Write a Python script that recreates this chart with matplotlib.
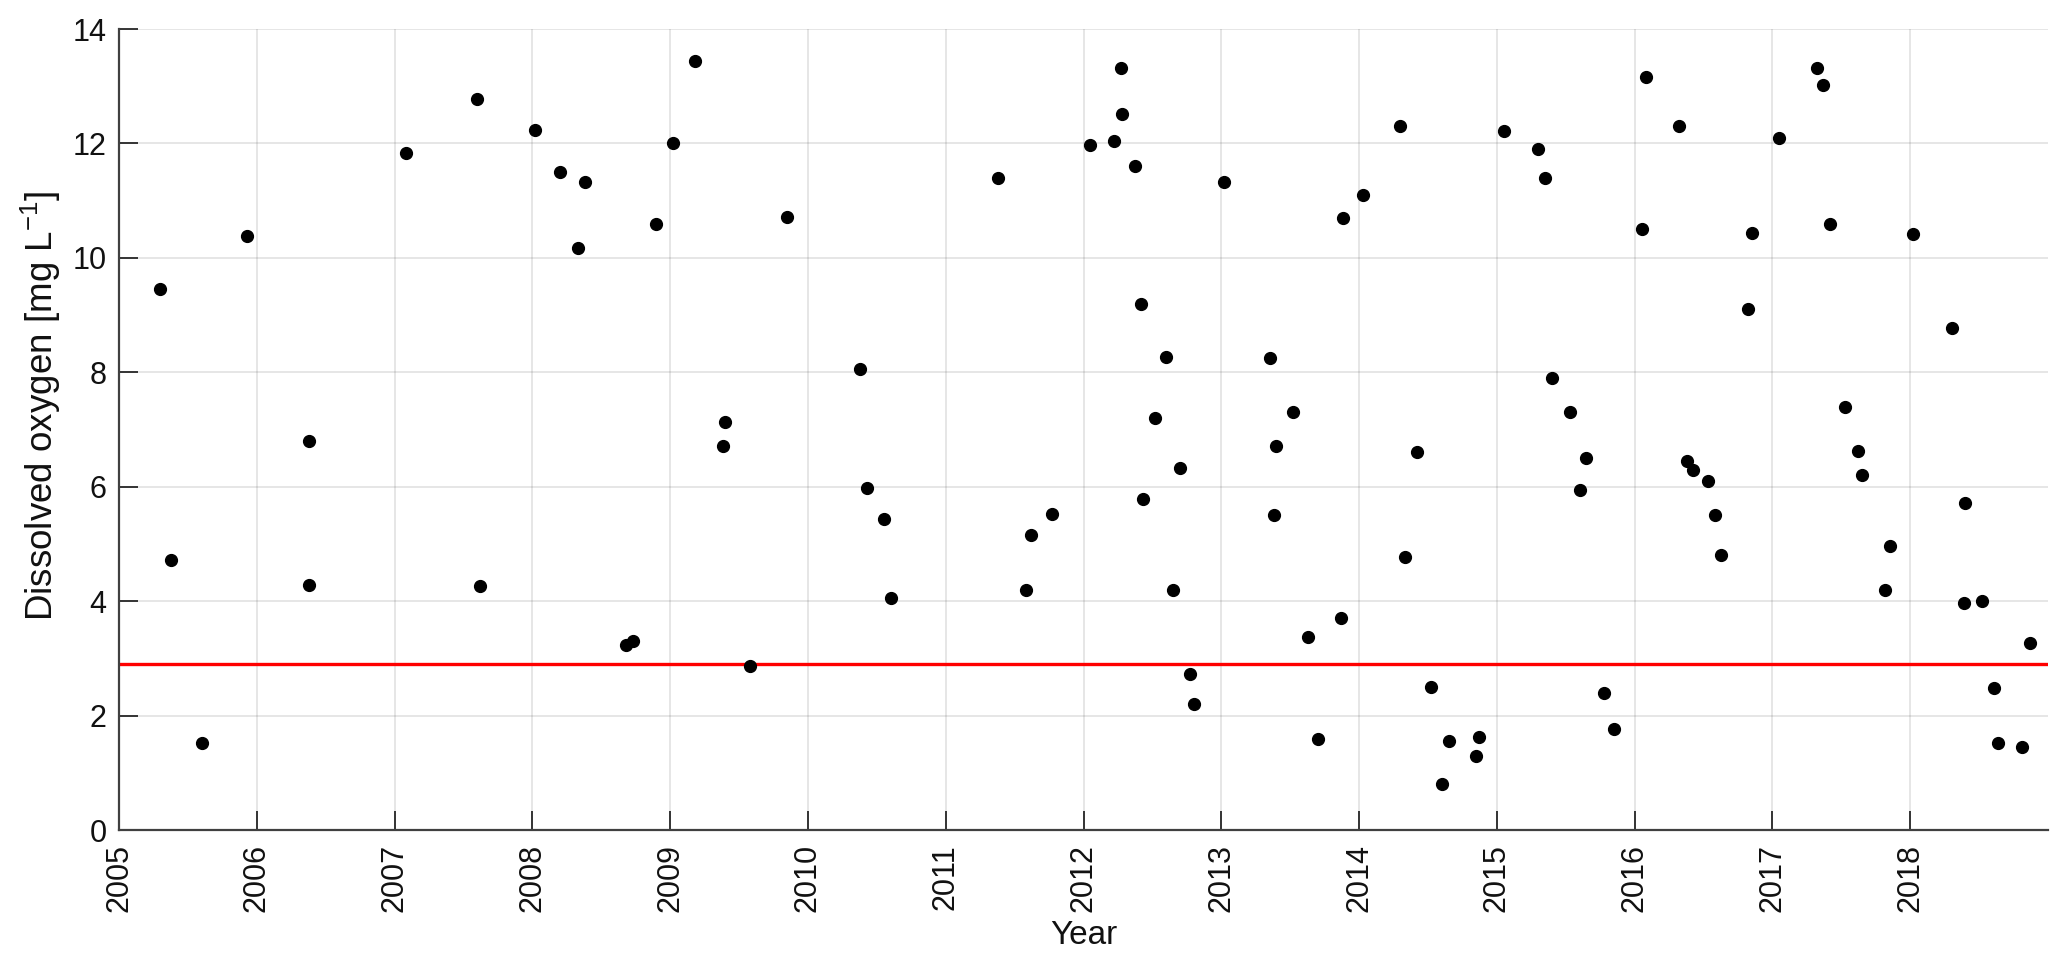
import matplotlib
matplotlib.use('Agg')
import matplotlib.pyplot as plt
import numpy as np

# sampling dates (decimal year) and dissolved oxygen values [mg/L]
year = [2005.30, 2005.38, 2005.60, 2005.93, 2006.38, 2006.38, 2007.08, 2007.60, 2007.62,
        2008.02, 2008.20, 2008.33, 2008.38, 2008.68, 2008.73, 2008.90, 2009.02, 2009.18,
        2009.38, 2009.40, 2009.58, 2009.85, 2010.38, 2010.43, 2010.55, 2010.60, 2011.38,
        2011.58, 2011.62, 2011.77, 2012.05, 2012.22, 2012.27, 2012.28, 2012.37, 2012.42,
        2012.43, 2012.52, 2012.60, 2012.65, 2012.70, 2012.77, 2012.80, 2013.02, 2013.35,
        2013.38, 2013.40, 2013.52, 2013.63, 2013.70, 2013.87, 2013.88, 2014.03, 2014.30,
        2014.33, 2014.42, 2014.52, 2014.60, 2014.65, 2014.85, 2014.87, 2015.05, 2015.30,
        2015.35, 2015.40, 2015.53, 2015.60, 2015.65, 2015.78, 2015.85, 2016.05, 2016.08,
        2016.32, 2016.38, 2016.42, 2016.53, 2016.58, 2016.63, 2016.82, 2016.85, 2017.05,
        2017.32, 2017.37, 2017.42, 2017.53, 2017.62, 2017.65, 2017.82, 2017.85, 2018.02,
        2018.30, 2018.39, 2018.40, 2018.52, 2018.61, 2018.64, 2018.81, 2018.87]
oxygen = [9.45, 4.72, 1.53, 10.38, 6.80, 4.28, 11.83, 12.77, 4.27,
          12.23, 11.50, 10.17, 11.32, 3.24, 3.30, 10.60, 12.00, 13.45,
          6.72, 7.13, 2.87, 10.72, 8.05, 5.98, 5.43, 4.05, 11.40,
          4.20, 5.15, 5.52, 11.97, 12.05, 13.32, 12.52, 11.60, 9.20,
          5.78, 7.20, 8.27, 4.20, 6.32, 2.73, 2.20, 11.32, 8.25,
          5.50, 6.72, 7.30, 3.38, 1.60, 3.70, 10.70, 11.10, 12.30,
          4.77, 6.60, 2.50, 0.80, 1.55, 1.30, 1.62, 12.22, 11.90,
          11.40, 7.90, 7.30, 5.95, 6.50, 2.40, 1.77, 10.50, 13.17,
          12.30, 6.45, 6.30, 6.10, 5.50, 4.80, 9.10, 10.43, 12.10,
          13.32, 13.02, 10.60, 7.40, 6.62, 6.20, 4.20, 4.97, 10.42,
          8.78, 3.97, 5.72, 4.00, 2.49, 1.53, 1.46, 3.27]
threshold = 2.9
year_ticks = list(range(2005, 2019))

plt.rcParams['font.family'] = ['Liberation Sans', 'DejaVu Sans']
plt.rcParams['mathtext.default'] = 'regular'

fig = plt.figure(figsize=(20.67, 9.69), dpi=100)
ax = fig.add_axes([0.0576, 0.1434, 0.9332, 0.8266])

ax.plot(year, oxygen, 'o', color='k', markersize=8.5, zorder=3)
ax.axhline(threshold, color='#ff0000', linewidth=2.4, zorder=2)

ax.set_xlim(2005, 2019)
ax.set_ylim(0, 14)
ax.set_xticks(year_ticks)
ax.set_xticklabels([str(y) for y in year_ticks], rotation=90)
ax.set_yticks(np.arange(0, 15, 2))

ax.grid(True, color='#262626', alpha=0.15, linewidth=1.1)
ax.set_axisbelow(True)
for s in ['top', 'right']:
    ax.spines[s].set_visible(False)
for s in ['left', 'bottom']:
    ax.spines[s].set_color('#404040')
    ax.spines[s].set_linewidth(1.6)

ax.tick_params(direction='in', length=13.5, width=1.3, color='#262626',
               labelsize=22, labelcolor='#111111')
ax.tick_params(axis='y', pad=9)
ax.tick_params(axis='x', pad=10)

ax.set_xlabel('Year', fontsize=24, color='#111111', labelpad=6)
ax.set_ylabel('Dissolved oxygen [mg L$^{-1}$]', fontsize=26.5, color='#111111')
# label sits a bit above the axis centre in the original
ax.yaxis.set_label_coords(-0.029, 0.53)

fig.savefig('out.png', dpi=100)
